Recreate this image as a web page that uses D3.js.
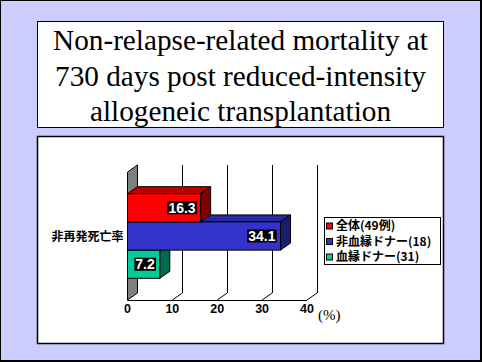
<!DOCTYPE html>
<html><head><meta charset="utf-8">
<script src="https://cdn.jsdelivr.net/npm/d3@7"></script>
<style>body{margin:0;background:#fff}svg{display:block}</style>
</head><body>
<svg id="c" width="482" height="362"></svg>
<script>
const titleLines = ["Non-relapse-related mortality at", "730 days post reduced-intensity", "allogeneic transplantation"];
const categories = ["非再発死亡率"];
const seriesNames = ["全体(49例)", "非血縁ドナー(18)", "血縁ドナー(31)"];
const seriesValues = [16.3, 34.1, 7.2];
const tickValues = [0, 10, 20, 30, 40];
const unitLabel = "(%)";

const colors = [
  {front: "#FF0000", top: "#C00000", side: "#800000"},
  {front: "#3333CC", top: "#2828A0", side: "#1C1C6C"},
  {front: "#00CC99", top: "#00A078", side: "#006A50"}
];
const serif = "'Liberation Serif','Times New Roman',Tinos,'DejaVu Serif','Noto Serif',serif";

const svg = d3.select("#c");
svg.append("rect").attr("x", 0.5).attr("y", 0.5).attr("width", 481).attr("height", 361)
  .attr("fill", "#CCCCFF").attr("stroke", "#000").attr("stroke-width", 1);
svg.append("line").attr("x1", 481).attr("x2", 481).attr("y1", 0).attr("y2", 362).attr("stroke", "#000").attr("stroke-width", 2);
svg.append("line").attr("x1", 0).attr("x2", 482).attr("y1", 361).attr("y2", 361).attr("stroke", "#000").attr("stroke-width", 2);

svg.append("rect").attr("x", 37.5).attr("y", 21.5).attr("width", 406).attr("height", 106)
  .attr("fill", "#fff").attr("stroke", "#000").attr("stroke-width", 1);
const tt = svg.append("text").attr("text-anchor", "middle")
  .attr("font-family", serif).attr("font-size", 26);
const spans = titleLines.map((l, i) => tt.append("tspan").attr("x", 240.5).attr("y", 50 + i * 35.5).text(l));
const w0 = spans[0].node().getComputedTextLength();
if (w0 > 0) tt.attr("font-size", Math.max(20, Math.min(32, 26 * 375 / w0)));

svg.append("rect").attr("x", 37.5).attr("y", 136.5).attr("width", 406).attr("height", 207)
  .attr("fill", "#fff").attr("stroke", "#000").attr("stroke-width", 1.5);

const dx = 10, dy = -7;
const x = d3.scaleLinear().domain([0, 40]).range([127.5, 307]);
const yTop = 172, yBot = 300;
const yCat = d3.scaleBand().domain(categories).range([yTop, yBot]).paddingInner(0).paddingOuter(0.256);
const ySer = d3.scaleBand().domain(seriesNames).range([0, yCat.bandwidth()]).padding(0);

const g = svg.append("g");
tickValues.slice(1).forEach(t => {
  const xb = x(t) + dx;
  g.append("line").attr("x1", xb).attr("x2", xb).attr("y1", yTop + dy).attr("y2", yBot + dy)
    .attr("stroke", "#000").attr("stroke-width", 1).attr("shape-rendering", "crispEdges");
  g.append("line").attr("x1", x(t)).attr("y1", yBot).attr("x2", xb).attr("y2", yBot + dy)
    .attr("stroke", "#000").attr("stroke-width", 1);
});
g.append("line").attr("x1", x(0)).attr("x2", x(40)).attr("y1", yBot + 0.5).attr("y2", yBot + 0.5)
  .attr("stroke", "#000").attr("stroke-width", 1);
const x0 = x(0);
g.append("path").attr("d", `M${x0},${yTop}L${x0 + dx},${yTop + dy}L${x0 + dx},${yBot + dy}L${x0},${yBot}Z`)
  .attr("fill", "#808080").attr("stroke", "#000").attr("stroke-width", 1);

const cat = categories[0];
const order = seriesNames.map((s, i) => i).reverse();
order.forEach(i => {
  const s = seriesNames[i];
  const v = seriesValues[i];
  const y0 = yCat(cat) + ySer(s), h = ySer.bandwidth();
  const xa = x(0), xe = x(v);
  const c = colors[i];
  const bg = g.append("g");
  bg.append("path").attr("d", `M${xa},${y0}L${xa + dx},${y0 + dy}L${xe + dx},${y0 + dy}L${xe},${y0}Z`)
    .attr("fill", c.top).attr("stroke", "#000").attr("stroke-width", 1);
  bg.append("path").attr("d", `M${xe},${y0}L${xe + dx},${y0 + dy}L${xe + dx},${y0 + h + dy}L${xe},${y0 + h}Z`)
    .attr("fill", c.side).attr("stroke", "#000").attr("stroke-width", 1);
  bg.append("rect").attr("x", xa).attr("y", y0).attr("width", xe - xa).attr("height", h)
    .attr("fill", c.front).attr("stroke", "#000").attr("stroke-width", 1);
  const lbl = bg.append("text").attr("x", xe - 5).attr("y", y0 + h / 2 + 5)
    .attr("text-anchor", "end").attr("font-family", "'Liberation Sans',Arial,sans-serif")
    .attr("font-weight", "bold").attr("font-size", 14).attr("fill", "#fff").text(v.toFixed(1));
  const bb = lbl.node().getBBox();
  bg.insert("rect", "text").attr("x", bb.x - 1).attr("y", y0 + h / 2 - 6.5).attr("width", bb.width + 2).attr("height", 13)
    .attr("fill", "#000");
});

svg.append("text").attr("x", 123.5).attr("y", yCat(cat) + yCat.bandwidth() / 2 + 5)
  .attr("text-anchor", "end").attr("font-family", "'Noto Sans CJK JP',sans-serif")
  .attr("font-weight", "bold").attr("font-size", 12).text(cat);

svg.append("g").selectAll("text").data(tickValues).join("text")
  .attr("x", d => x(d)).attr("y", 313).attr("text-anchor", "middle")
  .attr("font-family", "'Liberation Sans',Arial,sans-serif").attr("font-weight", "bold").attr("font-size", 12.5)
  .text(d => d);
svg.append("text").attr("x", 318).attr("y", 320).attr("font-family", serif)
  .attr("font-size", 15).text(unitLabel);

const lg = svg.append("g");
lg.append("rect").attr("x", 324.5).attr("y", 217.5).attr("width", 116).attr("height", 47)
  .attr("fill", "#fff").attr("stroke", "#000").attr("stroke-width", 1);
seriesNames.forEach((s, i) => {
  const cy = 226 + i * 15.5;
  lg.append("rect").attr("x", 326.5).attr("y", cy - 3).attr("width", 6).attr("height", 6)
    .attr("fill", colors[i].front).attr("stroke", "#000").attr("stroke-width", 1);
  lg.append("text").attr("x", 336).attr("y", cy + 4.3).attr("font-family", "'Noto Sans CJK JP',sans-serif")
    .attr("font-weight", "bold").attr("font-size", 12).text(s);
});
</script>
</body></html>
